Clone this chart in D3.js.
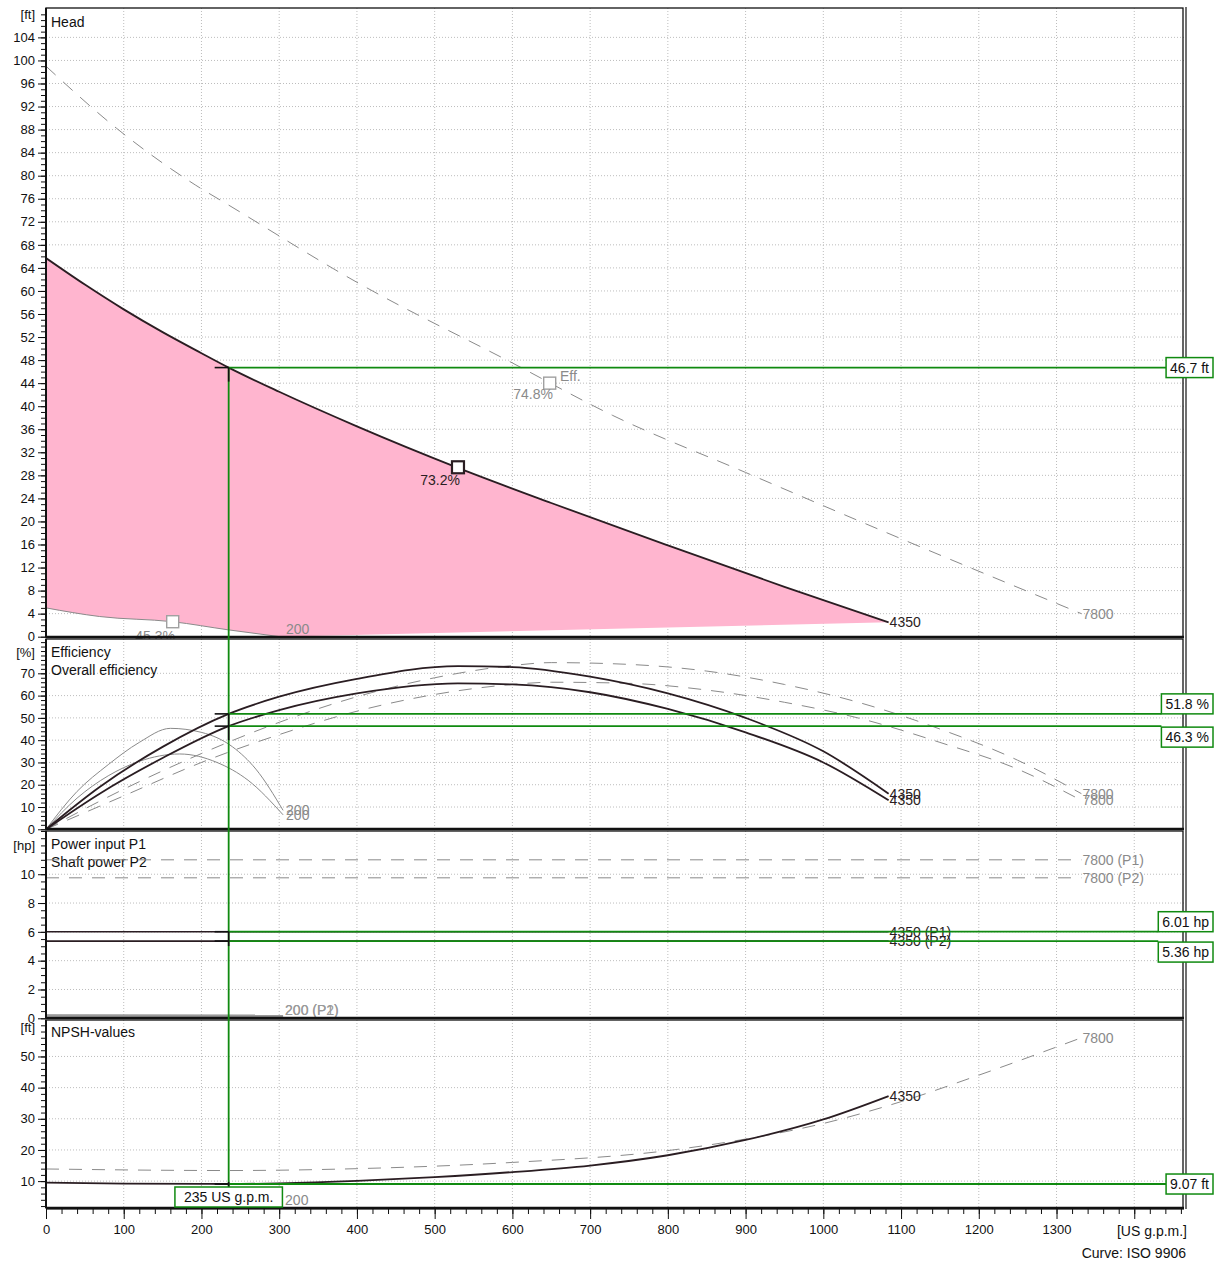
<!DOCTYPE html>
<html>
<head>
<meta charset="utf-8">
<script src="https://cdn.jsdelivr.net/npm/d3@7"></script>
<style>
  body { margin: 0; background: #fff; }
  svg { display: block; font-family: "Liberation Sans", Arial, sans-serif; }
</style>
</head>
<body>
<svg id="chart"></svg>
<script>
//--------------------------------------------
// DATA  (flow in US g.p.m.)
//--------------------------------------------
const flowTicks = d3.range(0, 1301, 100);

// Head [ft]
const head4350 = [[0,65.7],[50,61.1],[100,56.8],[150,52.85],[200,49.2],[235,46.7],[300,42.5],[400,36.5],[530,29.3],[650,23.2],[800,15.85],[950,8.65],[1084,2.5]];
const head7800 = [[0,99],[91,88.2],[192,78.4],[235,74.9],[400,61.5],[600,47.5],[729,38.4],[900,28.5],[1100,17],[1332,4]];
const head200  = [[0,5.0],[69,3.5],[163,2.6],[234,1.2],[301,0]];

// Efficiency [%]
const eff4350    = [[0,0],[69,19],[150,37],[235,51.8],[300,59.5],[400,67.5],[530,73.2],[600,72.8],[700,68.5],[800,61],[900,50],[1000,35],[1084,16]];
const effAll4350 = [[0,0],[69,16],[150,32],[235,46.3],[300,53.5],[400,61],[530,65.5],[600,65],[700,61.5],[800,54],[900,43.5],[1000,30],[1084,13]];
const eff7800    = [[0,0],[100,18],[200,34],[300,48],[400,59.5],[500,68],[600,73.5],[650,74.8],[750,74],[850,71],[950,65],[1050,56.5],[1150,45],[1250,31],[1332,16]];
const effAll7800 = [[0,0],[100,15],[200,30],[300,42.5],[400,53],[500,60.5],[600,65],[650,66],[750,65.5],[850,62.5],[950,57],[1050,49.5],[1150,39],[1250,27],[1332,13]];
const eff200     = [[0,0],[40,17],[80,29],[120,39],[160,45.3],[200,43.5],[240,37],[270,27],[305,8.5]];
const effAll200  = [[0,0],[40,14],[80,24],[120,30.5],[172,33.8],[220,30],[260,22],[305,6.5]];

// Power [hp]
const p1_4350 = [[0,6.01],[1084,6.01]];
const p2_4350 = [[0,5.36],[1084,5.36]];
const p1_7800 = [[0,11.0],[1332,11.0]];
const p2_7800 = [[0,9.75],[1332,9.75]];
const p1_200  = [[0,0.22],[305,0.2]];
const p2_200  = [[0,0.17],[305,0.15]];

// NPSH [ft]
const npsh4350 = [[0,9.5],[100,9.2],[200,9.1],[235,9.07],[300,9.3],[400,10.1],[500,11.3],[600,12.9],[700,15.0],[800,18.3],[900,23.2],[1000,29.8],[1084,37.3]];
const npsh7800 = [[0,13.9],[235,13.4],[400,14],[600,16],[800,19.8],[900,23.5],[1000,28.5],[1100,35.5],[1200,44],[1332,56]];
const npsh200  = [[0,1.5],[305,1.5]];

// duty point
const dutyFlow = 235;
const dutyHead = 46.7, dutyEff = 51.8, dutyEffAll = 46.3, dutyP1 = 6.01, dutyP2 = 5.36, dutyNpsh = 9.07;

//--------------------------------------------
// CONFIG
//--------------------------------------------
const width = 1221, height = 1261;
const dark = "#2a1d22", grey = "#8a8a8a", green = "#108a10", pink = "#ffb5cf";
const fs = 14; // text size for titles / labels

const svg = d3.select("#chart").attr("width", width).attr("height", height);

const x = d3.scaleLinear([0, 1464], [46, 1184]);

const panels = [
  { key: "head",  top: 8,    bottom: 637,  y: d3.scaleLinear([0, 109.1], [636.7, 8]),
    major: d3.range(0, 105, 4), minor: d3.range(0, 109, 1), unit: "[ft]", unitY: 19,
    titles: ["Head"], titleY: 27 },
  { key: "eff",   top: 639,  bottom: 829,  y: d3.scaleLinear([0, 85.4], [829.3, 639]),
    major: d3.range(0, 71, 10), minor: d3.range(0, 85, 2), unit: "[%]", unitY: 657,
    titles: ["Efficiency", "Overall efficiency"], titleY: 657 },
  { key: "power", top: 831,  bottom: 1018, y: d3.scaleLinear([0, 13.0], [1018.3, 831]),
    major: d3.range(0, 11, 2), minor: d3.range(0, 13.01, 0.5), unit: "[hp]", unitY: 850,
    titles: ["Power input P1", "Shaft power P2"], titleY: 849 },
  { key: "npsh",  top: 1020, bottom: 1208, y: d3.scaleLinear([1.28, 61.7], [1208.3, 1020]),
    major: d3.range(10, 51, 10), minor: d3.range(2, 61, 2), unit: "[ft]", unitY: 1032,
    titles: ["NPSH-values"], titleY: 1037 }
];
const P = Object.fromEntries(panels.map(p => [p.key, p]));

const defs = svg.append("defs");
panels.forEach(p => {
  defs.append("clipPath").attr("id", "clip-" + p.key)
    .append("rect").attr("x", x(0)).attr("y", p.top)
    .attr("width", x.range()[1] - x(0)).attr("height", p.bottom - p.top);
});

//--------------------------------------------
// PANELS: background, grid, axes
//--------------------------------------------
function drawPanel(p) {
  const g = svg.append("g");
  g.append("rect").attr("x", x(0)).attr("y", p.top)
    .attr("width", x.range()[1] - x(0)).attr("height", p.bottom - p.top)
    .attr("fill", "#fff");

  // grid
  g.append("g").selectAll("line").data(d3.range(100, 1401, 100)).join("line")
    .attr("x1", d => x(d)).attr("x2", d => x(d))
    .attr("y1", p.top).attr("y2", p.bottom)
    .attr("stroke", "#bdbdbd").attr("stroke-dasharray", "1,2");
  g.append("g").selectAll("line").data(p.major.filter(v => p.y(v) < p.bottom - 2)).join("line")
    .attr("x1", x(0)).attr("x2", x.range()[1])
    .attr("y1", d => p.y(d)).attr("y2", d => p.y(d))
    .attr("stroke", "#bdbdbd").attr("stroke-dasharray", "1,2");

  // axis ticks
  const minorAxis = d3.axisLeft(p.y).tickValues(p.minor.filter(v => p.y(v) >= p.top - 0.5))
    .tickSize(5).tickFormat("");
  const majorAxis = d3.axisLeft(p.y).tickValues(p.major).tickSize(8).tickPadding(3)
    .tickFormat(d3.format("d"));
  const ga = g.append("g").attr("transform", `translate(${x(0)},0)`);
  ga.append("g").call(minorAxis).call(s => s.select(".domain").remove());
  ga.append("g").call(majorAxis).call(s => s.select(".domain").remove());
  ga.selectAll("line").attr("stroke", "#111");
  ga.selectAll("text").attr("font-size", 13).attr("fill", "#111")
    .attr("font-family", "Liberation Sans, Arial, sans-serif");

  g.append("text").attr("x", 35).attr("y", p.unitY).attr("text-anchor", "end")
    .attr("font-size", 13).attr("fill", "#111").text(p.unit);
  p.titles.forEach((t, i) => {
    g.append("text").attr("x", 51).attr("y", p.titleY + i * 18)
      .attr("font-size", fs).attr("fill", "#111").text(t);
  });

  p.content = svg.append("g").attr("clip-path", `url(#clip-${p.key})`);
  p.labels = svg.append("g");
  return g;
}

function curve(p, data, opt) {
  const line = d3.line().x(d => x(d[0])).y(d => p.y(d[1])).curve(d3.curveMonotoneX);
  p.content.append("path").datum(data).attr("d", line)
    .attr("fill", "none")
    .attr("stroke", opt.color)
    .attr("stroke-width", opt.width || 1)
    .attr("stroke-dasharray", opt.dash ? "13,10" : null);
  if (opt.label) {
    const end = data[data.length - 1];
    const by = Math.min(p.y(end[1]) + 5, p.bottom - 3);
    p.labels.append("text").attr("x", x(end[0]) + (opt.dx || 1)).attr("y", by)
      .attr("font-size", fs).attr("fill", opt.color).text(opt.label);
  }
}

function outline(p) {
  svg.append("rect").attr("x", x(0)).attr("y", p.top)
    .attr("width", x.range()[1] - x(0) - 1).attr("height", p.bottom - p.top)
    .attr("fill", "none").attr("stroke", "#111").attr("stroke-width", 1.3);
  svg.append("line").attr("x1", x(0)).attr("x2", x.range()[1])
    .attr("y1", p.bottom).attr("y2", p.bottom)
    .attr("stroke", "#111").attr("stroke-width", 2.6);
  svg.append("line").attr("x1", x(0)).attr("x2", x(0))
    .attr("y1", p.top).attr("y2", p.bottom)
    .attr("stroke", "#111").attr("stroke-width", 2);
}

//--------------------------------------------
// HEAD
//--------------------------------------------
(function () {
  const p = P.head;
  drawPanel(p);
  const lm = d3.line().x(d => x(d[0])).y(d => p.y(d[1])).curve(d3.curveMonotoneX);
  const lastLow = head200[head200.length - 1];
  const area = lm(head4350) +
    "L" + x(lastLow[0]) + "," + p.y(lastLow[1]) +
    lm(head200.slice().reverse()).replace(/^M/, "L") + "Z";
  p.content.append("path").attr("d", area).attr("fill", pink);

  curve(p, head7800, { color: grey, dash: true, label: "7800" });
  curve(p, head200, { color: grey, label: "200", dx: 6 });
  curve(p, head4350, { color: dark, width: 1.8, label: "4350" });

  // efficiency markers
  const mk = (q, h, col, sw) => p.labels.append("rect")
    .attr("x", x(q) - 6).attr("y", p.y(h) - 6).attr("width", 12).attr("height", 12)
    .attr("fill", "#fff").attr("stroke", col).attr("stroke-width", sw);
  mk(530, 29.4, dark, 2.2);
  p.labels.append("text").attr("x", 460).attr("y", 485).attr("text-anchor", "end")
    .attr("font-size", fs).attr("fill", dark).text("73.2%");
  mk(648, 44.0, "#a0a0a0", 1.4);
  p.labels.append("text").attr("x", 553).attr("y", 399).attr("text-anchor", "end")
    .attr("font-size", fs).attr("fill", grey).text("74.8%");
  p.labels.append("text").attr("x", 560).attr("y", 381)
    .attr("font-size", fs).attr("fill", grey).text("Eff.");
  mk(163, 2.6, "#a0a0a0", 1.4);
  p.labels.append("text").attr("x", 175).attr("y", 641).attr("text-anchor", "end")
    .attr("font-size", fs).attr("fill", grey).text("45.3%");
})();

//--------------------------------------------
// EFFICIENCY
//--------------------------------------------
(function () {
  const p = P.eff;
  drawPanel(p);
  curve(p, eff7800, { color: grey, dash: true, label: "7800" });
  curve(p, effAll7800, { color: grey, dash: true, label: "7800" });
  curve(p, eff200, { color: grey, label: "200", dx: 3 });
  curve(p, effAll200, { color: grey, label: "200", dx: 3 });
  curve(p, eff4350, { color: dark, width: 1.8, label: "4350" });
  curve(p, effAll4350, { color: dark, width: 1.8, label: "4350" });
})();

//--------------------------------------------
// POWER
//--------------------------------------------
(function () {
  const p = P.power;
  drawPanel(p);
  curve(p, p1_7800, { color: grey, dash: true, label: "7800 (P1)" });
  curve(p, p2_7800, { color: grey, dash: true, label: "7800 (P2)" });
  curve(p, p1_200, { color: "#9a9a9a", width: 2, label: "200 (P1)", dx: 2 });
  curve(p, p2_200, { color: "#9a9a9a", width: 2, label: "200 (P2)", dx: 2 });
  curve(p, p1_4350, { color: dark, width: 1.6, label: "4350 (P1)" });
  curve(p, p2_4350, { color: dark, width: 1.6, label: "4350 (P2)" });
})();

//--------------------------------------------
// NPSH
//--------------------------------------------
(function () {
  const p = P.npsh;
  drawPanel(p);
  curve(p, npsh7800, { color: grey, dash: true, label: "7800" });
  curve(p, npsh200, { color: grey, label: "200", dx: 2 });
  curve(p, npsh4350, { color: dark, width: 1.8, label: "4350" });
})();

panels.forEach(outline);
// outer right edge (double line look)
svg.append("line").attr("x1", 1186).attr("x2", 1186).attr("y1", 7).attr("y2", 1209)
  .attr("stroke", "#111").attr("stroke-width", 1.2);

//--------------------------------------------
// X AXIS
//--------------------------------------------
const xAxisY = 1209;
const gx = svg.append("g").attr("transform", `translate(0,${xAxisY})`);
gx.append("g").call(d3.axisBottom(x).tickValues(d3.range(0, 1461, 20)).tickSize(5).tickFormat(""))
  .call(s => s.select(".domain").remove());
gx.append("g").call(d3.axisBottom(x).tickValues(d3.range(0, 1401, 100)).tickSize(10).tickPadding(6)
    .tickFormat(d => flowTicks.includes(d) ? d : ""))
  .call(s => s.select(".domain").remove());
gx.selectAll("line").attr("stroke", "#111");
gx.selectAll("text").attr("font-size", 13).attr("fill", "#111")
  .attr("font-family", "Liberation Sans, Arial, sans-serif");
svg.append("line").attr("x1", x(0)).attr("x2", x.range()[1])
  .attr("y1", xAxisY).attr("y2", xAxisY).attr("stroke", "#111").attr("stroke-width", 1.2);
svg.append("text").attr("x", 1152).attr("y", 1236).attr("text-anchor", "middle")
  .attr("font-size", fs).attr("fill", "#111").text("[US g.p.m.]");
svg.append("text").attr("x", 1186).attr("y", 1258).attr("text-anchor", "end")
  .attr("font-size", fs).attr("fill", "#111").text("Curve: ISO 9906");

//--------------------------------------------
// DUTY POINT (green markers)
//--------------------------------------------
const xd = x(dutyFlow);
const gd = svg.append("g");
gd.append("line").attr("x1", xd).attr("x2", xd)
  .attr("y1", P.head.y(dutyHead)).attr("y2", 1187)
  .attr("stroke", green).attr("stroke-width", 1.8);

function dutyLine(p, v, text, place) {
  const yy = p.y(v);
  const t = gd.append("text").attr("font-size", fs).attr("fill", "#111").text(text);
  const w = t.node().getComputedTextLength() + 8, h = 20;
  const bx = 1213 - w;
  const by = place === "above" ? yy - h : place === "below" ? yy + 1 : yy - h / 2;
  gd.append("line").attr("x1", xd).attr("x2", bx).attr("y1", yy).attr("y2", yy)
    .attr("stroke", green).attr("stroke-width", 1.8);
  gd.append("rect").attr("x", bx).attr("y", by).attr("width", w).attr("height", h)
    .attr("fill", "#fff").attr("stroke", green).attr("stroke-width", 1.5);
  t.attr("x", bx + w / 2).attr("y", by + 15).attr("text-anchor", "middle").raise();
  // black operating tick
  gd.append("line").attr("x1", xd - 14).attr("x2", xd).attr("y1", yy).attr("y2", yy)
    .attr("stroke", "#111").attr("stroke-width", 1.6);
}
dutyLine(P.head, dutyHead, "46.7 ft", "mid");
dutyLine(P.eff, dutyEff, "51.8 %", "above");
dutyLine(P.eff, dutyEffAll, "46.3 %", "below");
dutyLine(P.power, dutyP1, "6.01 hp", "above");
dutyLine(P.power, dutyP2, "5.36 hp", "below");
dutyLine(P.npsh, dutyNpsh, "9.07 ft", "mid");

// short black verticals at the duty point
[[P.head.y(dutyHead), P.head.y(dutyHead) + 14],
 [P.eff.y(dutyEff), P.eff.y(dutyEffAll) + 14],
 [P.power.y(dutyP1), P.power.y(dutyP2) + 5],
 [P.npsh.y(dutyNpsh) - 2, P.npsh.y(dutyNpsh) + 4]].forEach(([a, b]) => {
  gd.append("line").attr("x1", xd).attr("x2", xd).attr("y1", a).attr("y2", b)
    .attr("stroke", "#111").attr("stroke-width", 1.6);
});

// flow box
const ft = gd.append("text").attr("font-size", fs).attr("fill", "#111").text("235 US g.p.m.");
const fw = ft.node().getComputedTextLength() + 18;
gd.append("rect").attr("x", xd - fw / 2).attr("y", 1187).attr("width", fw).attr("height", 20)
  .attr("fill", "#fff").attr("stroke", green).attr("stroke-width", 1.5);
ft.attr("x", xd).attr("y", 1202).attr("text-anchor", "middle").raise();
</script>
</body>
</html>
